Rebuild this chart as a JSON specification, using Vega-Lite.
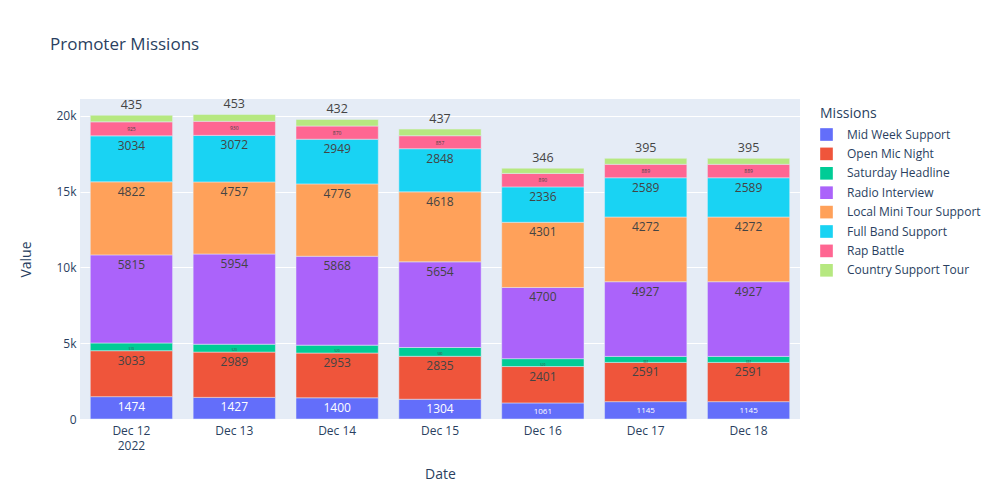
{
  "$schema": "https://vega.github.io/schema/vega-lite/v6.json",
  "width": 720,
  "height": 320,
  "autosize": {"type": "none"},
  "padding": {"left": 80, "top": 99, "right": 200, "bottom": 81},
  "background": "white",
  "config": {
    "font": "Open Sans",
    "view": {"fill": "#E5ECF6", "stroke": null}
  },
  "title": {
    "text": "Promoter Missions",
    "anchor": "start",
    "frame": "group",
    "dx": -30,
    "offset": 44,
    "fontSize": 17,
    "fontWeight": "normal",
    "color": "#2a3f5f"
  },
  "data": {
    "values": [
      {"Date": "Dec 12", "Missions": "Mid Week Support", "Value": 1474},
      {"Date": "Dec 12", "Missions": "Open Mic Night", "Value": 3033},
      {"Date": "Dec 12", "Missions": "Saturday Headline", "Value": 510},
      {"Date": "Dec 12", "Missions": "Radio Interview", "Value": 5815},
      {"Date": "Dec 12", "Missions": "Local Mini Tour Support", "Value": 4822},
      {"Date": "Dec 12", "Missions": "Full Band Support", "Value": 3034},
      {"Date": "Dec 12", "Missions": "Rap Battle", "Value": 925},
      {"Date": "Dec 12", "Missions": "Country Support Tour", "Value": 435},
      {"Date": "Dec 13", "Missions": "Mid Week Support", "Value": 1427},
      {"Date": "Dec 13", "Missions": "Open Mic Night", "Value": 2989},
      {"Date": "Dec 13", "Missions": "Saturday Headline", "Value": 520},
      {"Date": "Dec 13", "Missions": "Radio Interview", "Value": 5954},
      {"Date": "Dec 13", "Missions": "Local Mini Tour Support", "Value": 4757},
      {"Date": "Dec 13", "Missions": "Full Band Support", "Value": 3072},
      {"Date": "Dec 13", "Missions": "Rap Battle", "Value": 930},
      {"Date": "Dec 13", "Missions": "Country Support Tour", "Value": 453},
      {"Date": "Dec 14", "Missions": "Mid Week Support", "Value": 1400},
      {"Date": "Dec 14", "Missions": "Open Mic Night", "Value": 2953},
      {"Date": "Dec 14", "Missions": "Saturday Headline", "Value": 520},
      {"Date": "Dec 14", "Missions": "Radio Interview", "Value": 5868},
      {"Date": "Dec 14", "Missions": "Local Mini Tour Support", "Value": 4776},
      {"Date": "Dec 14", "Missions": "Full Band Support", "Value": 2949},
      {"Date": "Dec 14", "Missions": "Rap Battle", "Value": 870},
      {"Date": "Dec 14", "Missions": "Country Support Tour", "Value": 432},
      {"Date": "Dec 15", "Missions": "Mid Week Support", "Value": 1304},
      {"Date": "Dec 15", "Missions": "Open Mic Night", "Value": 2835},
      {"Date": "Dec 15", "Missions": "Saturday Headline", "Value": 580},
      {"Date": "Dec 15", "Missions": "Radio Interview", "Value": 5654},
      {"Date": "Dec 15", "Missions": "Local Mini Tour Support", "Value": 4618},
      {"Date": "Dec 15", "Missions": "Full Band Support", "Value": 2848},
      {"Date": "Dec 15", "Missions": "Rap Battle", "Value": 857},
      {"Date": "Dec 15", "Missions": "Country Support Tour", "Value": 437},
      {"Date": "Dec 16", "Missions": "Mid Week Support", "Value": 1061},
      {"Date": "Dec 16", "Missions": "Open Mic Night", "Value": 2401},
      {"Date": "Dec 16", "Missions": "Saturday Headline", "Value": 520},
      {"Date": "Dec 16", "Missions": "Radio Interview", "Value": 4700},
      {"Date": "Dec 16", "Missions": "Local Mini Tour Support", "Value": 4301},
      {"Date": "Dec 16", "Missions": "Full Band Support", "Value": 2336},
      {"Date": "Dec 16", "Missions": "Rap Battle", "Value": 890},
      {"Date": "Dec 16", "Missions": "Country Support Tour", "Value": 346},
      {"Date": "Dec 17", "Missions": "Mid Week Support", "Value": 1145},
      {"Date": "Dec 17", "Missions": "Open Mic Night", "Value": 2591},
      {"Date": "Dec 17", "Missions": "Saturday Headline", "Value": 397},
      {"Date": "Dec 17", "Missions": "Radio Interview", "Value": 4927},
      {"Date": "Dec 17", "Missions": "Local Mini Tour Support", "Value": 4272},
      {"Date": "Dec 17", "Missions": "Full Band Support", "Value": 2589},
      {"Date": "Dec 17", "Missions": "Rap Battle", "Value": 889},
      {"Date": "Dec 17", "Missions": "Country Support Tour", "Value": 395},
      {"Date": "Dec 18", "Missions": "Mid Week Support", "Value": 1145},
      {"Date": "Dec 18", "Missions": "Open Mic Night", "Value": 2591},
      {"Date": "Dec 18", "Missions": "Saturday Headline", "Value": 397},
      {"Date": "Dec 18", "Missions": "Radio Interview", "Value": 4927},
      {"Date": "Dec 18", "Missions": "Local Mini Tour Support", "Value": 4272},
      {"Date": "Dec 18", "Missions": "Full Band Support", "Value": 2589},
      {"Date": "Dec 18", "Missions": "Rap Battle", "Value": 889},
      {"Date": "Dec 18", "Missions": "Country Support Tour", "Value": 395}
    ]
  },
  "transform": [
    {"calculate": "indexof(['Mid Week Support','Open Mic Night','Saturday Headline','Radio Interview','Local Mini Tour Support','Full Band Support','Rap Battle','Country Support Tour'], datum.Missions)", "as": "idx"},
    {"stack": "Value", "groupby": ["Date"], "sort": [{"field": "idx", "order": "ascending"}], "as": ["y0", "y1"]}
  ],
  "encoding": {
    "x": {
      "field": "Date",
      "type": "ordinal",
      "sort": ["Dec 12", "Dec 13", "Dec 14", "Dec 15", "Dec 16", "Dec 17", "Dec 18"],
      "scale": {"paddingInner": 0.2, "paddingOuter": 0.1},
      "axis": {
        "title": "Date",
        "titleFontSize": 14,
        "titleFontWeight": "normal",
        "titleColor": "#2a3f5f",
        "titlePadding": 16,
        "labelAngle": 0,
        "labelFontSize": 12,
        "labelColor": "#2a3f5f",
        "labelLineHeight": 15,
        "labelExpr": "datum.value == 'Dec 12' ? ['Dec 12', '2022'] : datum.value",
        "ticks": false,
        "domain": false,
        "labelPadding": 6
      }
    }
  },
  "layer": [
    {
      "mark": {"type": "bar", "stroke": "#E5ECF6", "strokeWidth": 0.5},
      "encoding": {
        "y": {
          "field": "y0",
          "type": "quantitative",
          "scale": {"domain": [0, 21120], "nice": false},
          "axis": {
            "title": "Value",
            "titleFontSize": 14,
            "titleFontWeight": "normal",
            "titleColor": "#2a3f5f",
            "titlePadding": 22,
            "values": [0, 5000, 10000, 15000, 20000],
            "labelExpr": "datum.value == 0 ? '0' : (datum.value / 1000) + 'k'",
            "labelFontSize": 12,
            "labelColor": "#2a3f5f",
            "gridColor": "white",
            "gridWidth": 1,
            "ticks": false,
            "domain": false,
            "labelPadding": 4
          }
        },
        "y2": {"field": "y1"},
        "color": {
          "field": "Missions",
          "type": "nominal",
          "sort": ["Mid Week Support", "Open Mic Night", "Saturday Headline", "Radio Interview", "Local Mini Tour Support", "Full Band Support", "Rap Battle", "Country Support Tour"],
          "scale": {
            "domain": ["Mid Week Support", "Open Mic Night", "Saturday Headline", "Radio Interview", "Local Mini Tour Support", "Full Band Support", "Rap Battle", "Country Support Tour"],
            "range": ["#636efa", "#EF553B", "#00cc96", "#ab63fa", "#FFA15A", "#19d3f3", "#FF6692", "#B6E880"]
          },
          "legend": {
            "orient": "none",
            "legendX": 740,
            "legendY": 8,
            "title": "Missions",
            "titleFontSize": 14,
            "titleFontWeight": "normal",
            "titleColor": "#2a3f5f",
            "titlePadding": 7,
            "labelFontSize": 12,
            "labelColor": "#2a3f5f",
            "symbolType": "square",
            "symbolSize": 160,
            "symbolStrokeWidth": 0,
            "rowPadding": 6.4,
            "labelOffset": 14,
            "padding": 0,
            "offset": 0
          }
        }
      }
    },
    {
      "transform": [{"filter": "datum.Missions != 'Country Support Tour'"}],
      "mark": {"type": "text", "baseline": "top", "dy": 5},
      "encoding": {
        "y": {"field": "y1", "type": "quantitative"},
        "text": {"field": "Value", "type": "quantitative", "format": "d"},
        "size": {
          "condition": [
            {"test": "datum.Missions == 'Saturday Headline'", "value": 3},
            {"test": "datum.Missions == 'Rap Battle'", "value": 5},
            {"test": "datum.Missions == 'Mid Week Support' && datum.Value < 1200", "value": 8}
          ],
          "value": 12
        },
        "color": {
          "condition": {"test": "datum.Missions == 'Mid Week Support'", "value": "white"},
          "value": "#444"
        }
      }
    },
    {
      "transform": [{"filter": "datum.Missions == 'Country Support Tour'"}],
      "mark": {"type": "text", "baseline": "bottom", "dy": -3, "fontSize": 12.5, "color": "#444"},
      "encoding": {
        "y": {"field": "y1", "type": "quantitative"},
        "text": {"field": "Value", "type": "quantitative", "format": "d"}
      }
    }
  ]
}
